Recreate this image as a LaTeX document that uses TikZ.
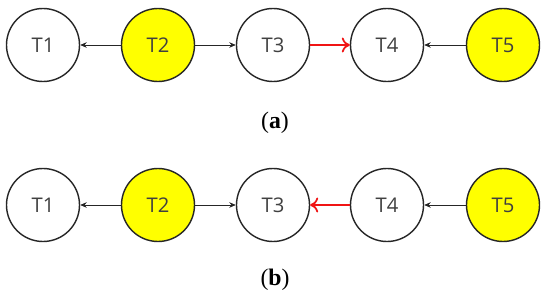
\documentclass[tikz,border=0pt]{standalone}
\usepackage{fontspec}
\setmainfont{Liberation Serif}
\newfontfamily\tasksans{Open Sans}
\usetikzlibrary{arrows.meta}
\begin{document}
\begin{tikzpicture}[x=1cm,y=1cm,>=Stealth]
\tikzset{
  task/.style={draw=black!85, circle, line width=.8pt, minimum size=1.46cm, inner sep=0pt,
    font=\tasksans\fontsize{11.5}{13}\selectfont, text=black!75},
  busy/.style={task, fill=taskyellow},
  dep/.style={->, draw=black!85, line width=.45pt, >={Stealth[length=1.3mm,width=1.1mm]}},
  crit/.style={->, draw=critred, line width=1pt, >={To[length=1.6mm,width=3mm]}},
  caption/.style={font=\fontsize{13.5}{15}\selectfont}
}

\definecolor{taskyellow}{RGB}{255,255,0}
\definecolor{critred}{RGB}{240,20,20}

\useasboundingbox (0,0) rectangle (11,6);

% (a)
\begin{scope}[shift={(0,5.1)}]
  \node[task] (a1) at (.86,0) {T1};
  \node[busy] (a2) at (3.16,0) {T2};
  \node[task] (a3) at (5.46,0) {T3};
  \node[task] (a4) at (7.74,0) {T4};
  \node[busy] (a5) at (10.06,0) {T5};
  \draw[dep] (a2) -- (a1);
  \draw[dep] (a2) -- (a3);
  \draw[crit] (a3) -- (a4);
  \draw[dep] (a5) -- (a4);
  \node[caption] (capa) at (5.5,-1.56) {(\textbf{a})};
\end{scope}

% (b)
\begin{scope}[shift={(0,1.9)}]
  \node[task] (b1) at (.86,0) {T1};
  \node[busy] (b2) at (3.16,0) {T2};
  \node[task] (b3) at (5.46,0) {T3};
  \node[task] (b4) at (7.74,0) {T4};
  \node[busy] (b5) at (10.06,0) {T5};
  \draw[dep] (b2) -- (b1);
  \draw[dep] (b2) -- (b3);
  \draw[crit] (b4) -- (b3);
  \draw[dep] (b5) -- (b4);
  \node[caption] (capb) at (5.5,-1.5) {(\textbf{b})};
\end{scope}
\end{tikzpicture}
\end{document}
